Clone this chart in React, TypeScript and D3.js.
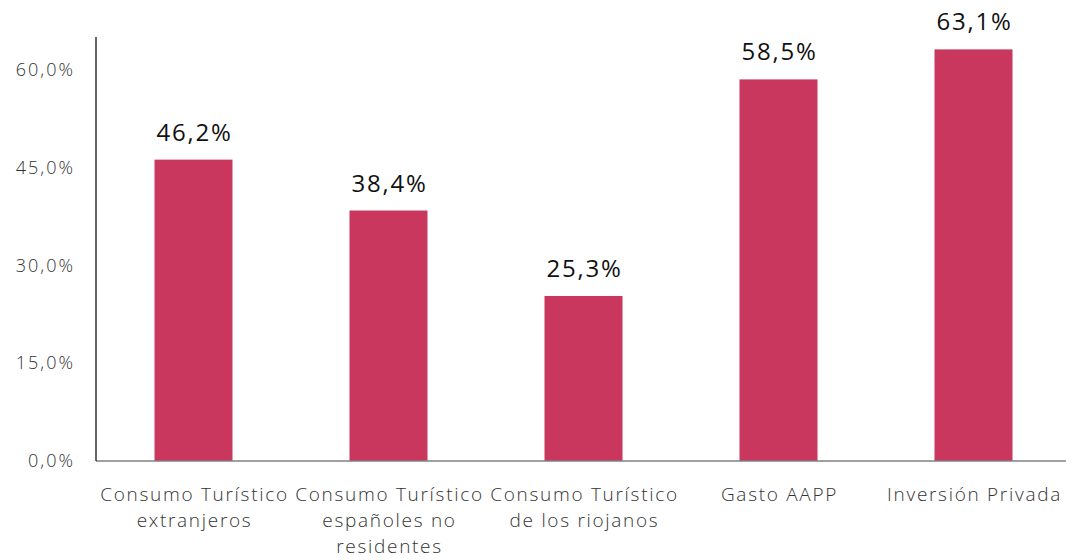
import React from "react";
import * as d3 from "d3";

const categories: string[][] = [
  ["Consumo Turístico", "extranjeros"],
  ["Consumo Turístico", "españoles no", "residentes"],
  ["Consumo Turístico", "de los riojanos"],
  ["Gasto AAPP"],
  ["Inversión Privada"],
];
const values: number[] = [46.2, 38.4, 25.3, 58.5, 63.1];
const yTicks: number[] = [0, 15, 30, 45, 60];

const W = 1066;
const H = 560;
const margin = { left: 96, top: 37, bottom: 99 };
const fmt = (v: number) => v.toFixed(1).replace(".", ",") + "%";

export default function App() {
  const keys = categories.map((_, i) => String(i));
  const x = d3.scaleBand<string>().domain(keys).range([margin.left, margin.left + 975]).paddingInner(0.6).paddingOuter(0.3);
  const y = d3.scaleLinear().domain([0, 65]).range([H - margin.bottom, margin.top]);
  const base = y(0);
  const font = "'Open Sans', sans-serif";
  return (
    <svg width={W} height={H} style={{ position: "absolute", left: 0, top: 0, background: "#fff" }}>
      {yTicks.map((t) => (
        <text key={t} x={75} y={y(t)} dy="0.35em" textAnchor="end" fontFamily={font} fontWeight={300} fontSize={18} letterSpacing={2} fill="#333">
          {fmt(t)}
        </text>
      ))}
      {values.map((v, i) => (
        <g key={i}>
          <rect x={x(keys[i])} y={y(v)} width={x.bandwidth()} height={base - y(v)} fill="#C9375E" />
          <text x={(x(keys[i]) as number) + x.bandwidth() / 2 + 1} y={y(v) - 19} textAnchor="middle" fontFamily={font} fontWeight={400} fontSize={24} letterSpacing={1.8} fill="#111">
            {fmt(v)}
          </text>
          {categories[i].map((line, j) => (
            <text key={j} x={(x(keys[i]) as number) + x.bandwidth() / 2 + 1} y={base + 40 + j * 26} textAnchor="middle" fontFamily={font} fontWeight={300} fontSize={19} letterSpacing={1.7} fill="#333">
              {line}
            </text>
          ))}
        </g>
      ))}
      <line x1={margin.left} x2={W} y1={base} y2={base} stroke="#808080" strokeWidth={1.5} />
      <line x1={margin.left} x2={margin.left} y1={margin.top} y2={base} stroke="#000" strokeWidth={1.2} />
    </svg>
  );
}
